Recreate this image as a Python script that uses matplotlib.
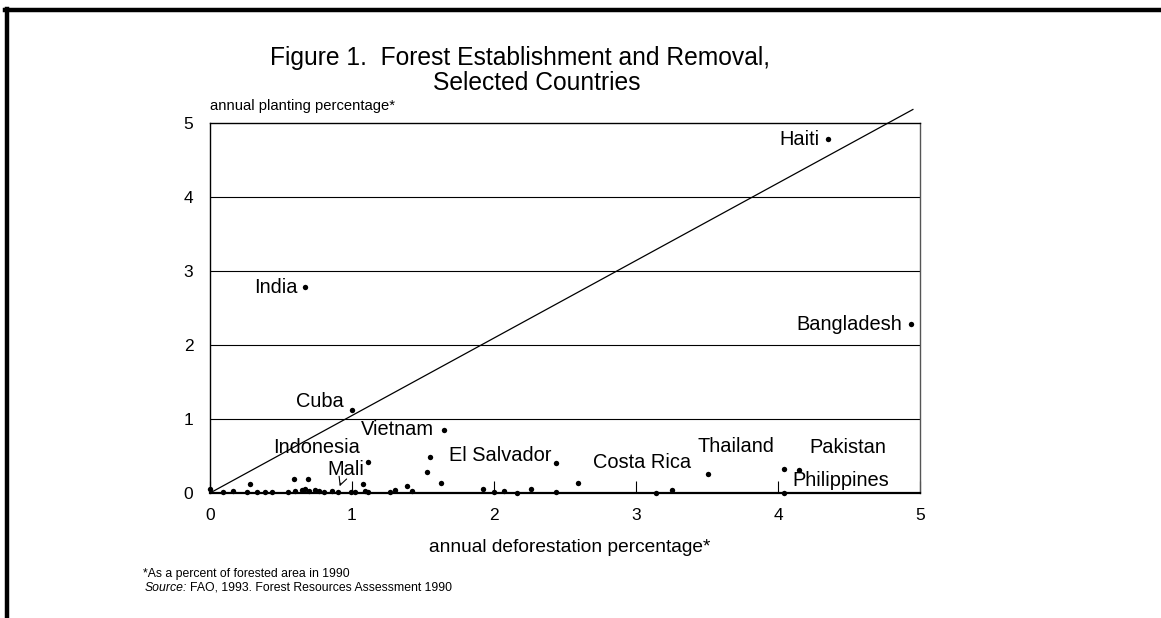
import matplotlib
matplotlib.use("Agg")
import matplotlib.pyplot as plt
from matplotlib.lines import Line2D

plt.rcParams["font.family"] = ["Liberation Sans", "DejaVu Sans"]

# =========================================================
# Data
# =========================================================
# unlabelled countries: annual deforestation %, annual planting %
other_defor = [0.0, 0.09, 0.16, 0.28, 0.26, 0.33, 0.39, 0.44, 0.55, 0.59,
               0.60, 0.65, 0.67, 0.69, 0.70, 0.74, 0.77, 0.80, 0.86, 0.99,
               1.02, 1.08, 1.09, 1.11, 1.27, 1.30, 1.39, 1.42, 1.53, 1.55,
               1.63, 1.92, 2.00, 2.07, 2.16, 2.26, 2.44, 2.59, 3.14, 4.04]
other_plant = [0.05, 0.02, 0.03, 0.12, 0.02, 0.01, 0.02, 0.01, 0.02, 0.19,
               0.03, 0.04, 0.05, 0.19, 0.03, 0.04, 0.03, 0.02, 0.03, 0.01,
               0.02, 0.12, 0.03, 0.02, 0.02, 0.04, 0.09, 0.03, 0.28, 0.49,
               0.13, 0.05, 0.01, 0.03, 0.00, 0.05, 0.01, 0.13, 0.00, 0.33]

# labelled countries
countries = ["Haiti", "India", "Bangladesh", "Cuba", "Vietnam", "Indonesia",
             "Mali", "El Salvador", "Costa Rica", "Thailand", "Pakistan",
             "Philippines"]
country_defor = [4.35, 0.67, 4.94, 1.00, 1.65, 1.11, 0.90, 2.44, 3.25, 3.51,
                 4.15, 4.04]
country_plant = [4.78, 2.78, 2.28, 1.12, 0.85, 0.42, 0.02, 0.40, 0.04, 0.26,
                 0.31, 0.00]

# label placement: offset in pixels from the point, horizontal alignment
label_offsets = {
    "Haiti": (-8, 0, "right"),
    "India": (-8, 0, "right"),
    "Bangladesh": (-9, 0, "right"),
    "Cuba": (-8, 9, "right"),
    "Vietnam": (-10, 1, "right"),
    "Indonesia": (-8, 14, "right"),
    "Mali": (8, 22, "center"),
    "El Salvador": (-5, 8, "right"),
    "Costa Rica": (-29, 28, "center"),
    "Thailand": (28, 27, "center"),
    "Pakistan": (10, 23, "left"),
    "Philippines": (9, 12, "left"),
}

# reference line, as drawn in the original
DIAG_SLOPE = 1.047
DIAG_END = 4.95

x_ticks = [0, 1, 2, 3, 4, 5]
y_ticks = [0, 1, 2, 3, 4, 5]

# =========================================================
# Figure
# =========================================================
fig = plt.figure(figsize=(11.61, 6.18), dpi=100)
ax = fig.add_axes([210 / 1161, 1 - 493 / 618, 710 / 1161, 370 / 618])

# horizontal grid lines
for yv in y_ticks[1:-1]:
    ax.axhline(yv, color="black", linewidth=0.8, zorder=1)

ax.plot([0, DIAG_END], [0, DIAG_SLOPE * DIAG_END], color="black",
        linewidth=0.9, clip_on=False, zorder=2)

ax.scatter(other_defor, other_plant, s=15, color="black", zorder=3,
           clip_on=False, linewidths=0)
ax.scatter(country_defor, country_plant, s=15, color="black", zorder=3,
           clip_on=False, linewidths=0)

for name, xv, yv in zip(countries, country_defor, country_plant):
    dx, dy, ha = label_offsets[name]
    arrow = None
    if name == "Mali":
        arrow = dict(arrowstyle="->", color="black", lw=0.8, shrinkA=1, shrinkB=4)
    ax.annotate(name, (xv, yv), xytext=(dx, dy), textcoords="offset pixels",
                ha=ha, va="center", fontsize=14.4, arrowprops=arrow)

ax.set_xlim(0, 5)
ax.set_ylim(0, 5)
ax.set_xticks(x_ticks)
ax.set_yticks(y_ticks)
ax.tick_params(axis="x", direction="in", length=9, width=0.8, pad=11,
               labelsize=12.5)
ax.tick_params(axis="y", length=0, pad=12, labelsize=12.5)

for side in ["left", "top", "bottom"]:
    ax.spines[side].set_color("black")
    ax.spines[side].set_linewidth(1.0)
ax.spines["bottom"].set_linewidth(1.6)
ax.spines["right"].set_color("#555555")
ax.spines["right"].set_linewidth(1.0)

# axis labels
fig.text(210 / 1161, 1 - 106 / 618, "annual planting percentage*",
         ha="left", va="center", fontsize=10.6)
fig.text(570 / 1161, 1 - 548 / 618, "annual deforestation percentage*",
         ha="center", va="center", fontsize=13.8)

# title
fig.text(520 / 1161, 1 - 58 / 618, "Figure 1.  Forest Establishment and Removal,",
         ha="center", va="center", fontsize=17.7)
fig.text(537 / 1161, 1 - 83 / 618, "Selected Countries",
         ha="center", va="center", fontsize=17.7)

# footnotes
fig.text(143 / 1161, 1 - 574 / 618, "*As a percent of forested area in 1990",
         ha="left", va="center", fontsize=8.8)
src = fig.text(145 / 1161, 1 - 588 / 618, "Source:", style="italic",
               ha="left", va="center", fontsize=8.8)
fig.add_artist(plt.Annotation("FAO, 1993. Forest Resources Assessment 1990",
                              xy=(1, 0.5), xycoords=src, xytext=(2, 0),
                              textcoords="offset points", ha="left",
                              va="center", fontsize=8.8))

# page border (top and left)
fig.add_artist(Line2D([5 / 1161, 1], [1 - 10 / 618, 1 - 10 / 618],
                      transform=fig.transFigure, color="black", linewidth=3.2))
fig.add_artist(Line2D([7 / 1161, 7 / 1161], [1 - 9 / 618, 0],
                      transform=fig.transFigure, color="black", linewidth=3.2))

fig.savefig("out.png", dpi=100)
plt.close(fig)
